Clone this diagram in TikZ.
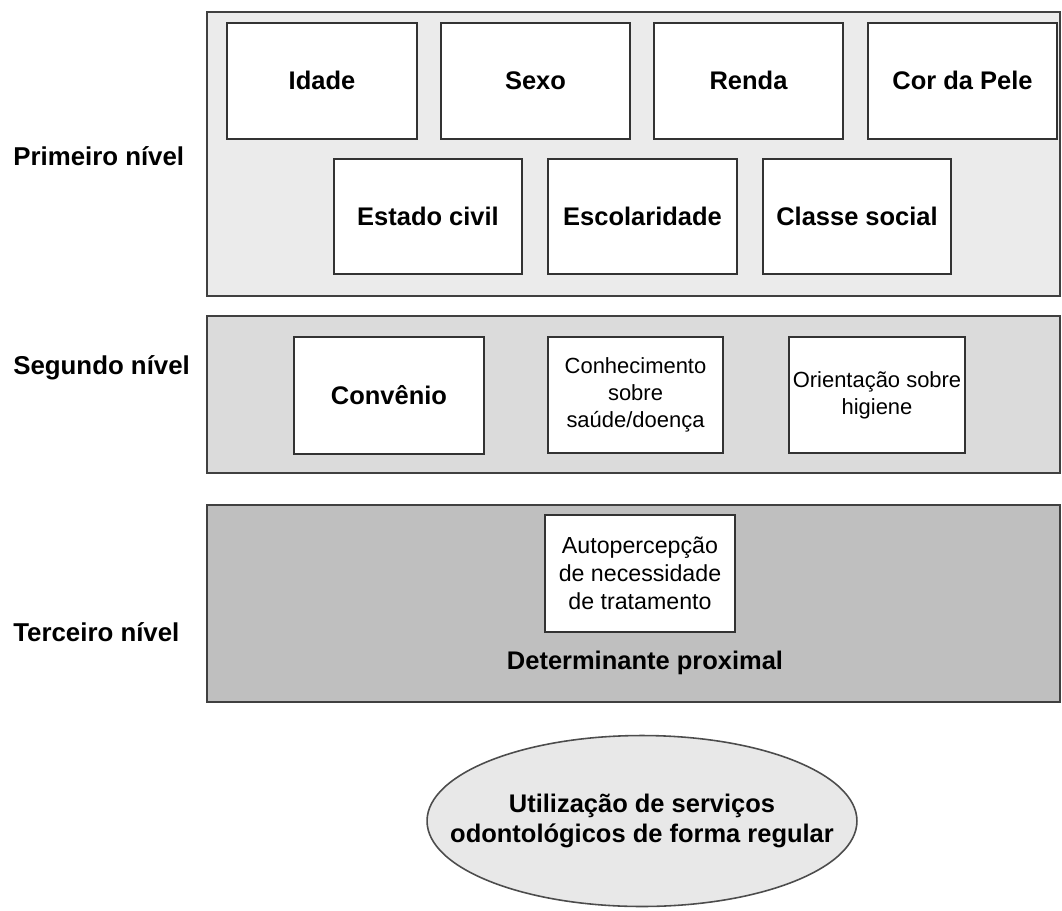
\documentclass[tikz,border=0pt]{standalone}
\usepackage{fontspec}
\setmainfont{Liberation Sans}
\usetikzlibrary{shapes.geometric}

\begin{document}
\begin{tikzpicture}[x=0.02cm, y=-0.02cm,
  nivel/.style={draw=black!75, line width=0.9pt, minimum width=17.06cm, inner sep=0pt},
  caixa/.style={draw=black!80, line width=0.7pt, fill=white, inner sep=0pt, align=center},
  grande/.style={font=\fontsize{14.5}{17}\selectfont\bfseries},
  uma/.style={text height=10.5pt, text depth=0.5pt},
  pequeno/.style={font=\fontsize{12.5}{15.3}\selectfont},
  rotulo/.style={anchor=west, inner sep=0pt, font=\fontsize{14.7}{17}\selectfont\bfseries}]
\useasboundingbox (0,0) rectangle (1062,910);

% Levels
\node[nivel, fill=black!8, minimum height=5.68cm] (p1) at (633.5,154) {};
\node[nivel, fill=black!14, minimum height=3.14cm] (p2) at (633.5,394.5) {};
\node[nivel, fill=black!25, minimum height=3.94cm] (p3) at (633.5,603.5) {};

\node[rotulo] (l1) at (13,156) {Primeiro nível};
\node[rotulo] (l2) at (13,368) {Segundo nível};
\node[rotulo] (l3) at (13,632) {Terceiro nível};

% Primeiro nivel
\node[caixa, grande, uma, minimum width=3.8cm, minimum height=2.32cm] (idade) at (322,81) {Idade};
\node[caixa, grande, uma, minimum width=3.78cm, minimum height=2.32cm] (sexo) at (535.5,81) {Sexo};
\node[caixa, grande, uma, minimum width=3.78cm, minimum height=2.32cm] (renda) at (748.5,81) {Renda};
\node[caixa, grande, uma, minimum width=3.78cm, minimum height=2.32cm] (cor) at (962.5,81) {Cor da Pele};
\node[caixa, grande, uma, minimum width=3.76cm, minimum height=2.3cm] (civil) at (428,216.5) {Estado civil};
\node[caixa, grande, uma, minimum width=3.78cm, minimum height=2.3cm] (escola) at (642.5,216.5) {Escolaridade};
\node[caixa, grande, uma, minimum width=3.76cm, minimum height=2.3cm] (classe) at (857,216.5) {Classe social};

% Segundo nivel
\node[caixa, grande, uma, minimum width=3.8cm, minimum height=2.34cm] (convenio) at (389,395.5) {Convênio};
\node[caixa, pequeno, minimum width=3.5cm, minimum height=2.32cm] (conhec) at (635.5,395) {Conhecimento\\sobre\\saúde/doença};
\node[caixa, pequeno, minimum width=3.52cm, minimum height=2.32cm] (orient) at (877,395) {Orientação sobre\\higiene};

% Terceiro nivel
\node[caixa, pequeno, font=\fontsize{13.2}{16}\selectfont, minimum width=3.8cm, minimum height=2.34cm] (auto) at (640,573.5) {Autopercepção\\de necessidade\\de tratamento};
\node[grande] (prox) at (645,663) {Determinante proximal};

% Desfecho
\node[ellipse, draw=black!70, line width=0.9pt, fill=black!9, minimum width=8.6cm, minimum height=3.42cm,
  inner xsep=-0.82cm, inner ysep=0pt, align=center, grande] (uso) at (642,821) {Utilização de serviços\\odontológicos de forma regular};
\end{tikzpicture}
\end{document}
